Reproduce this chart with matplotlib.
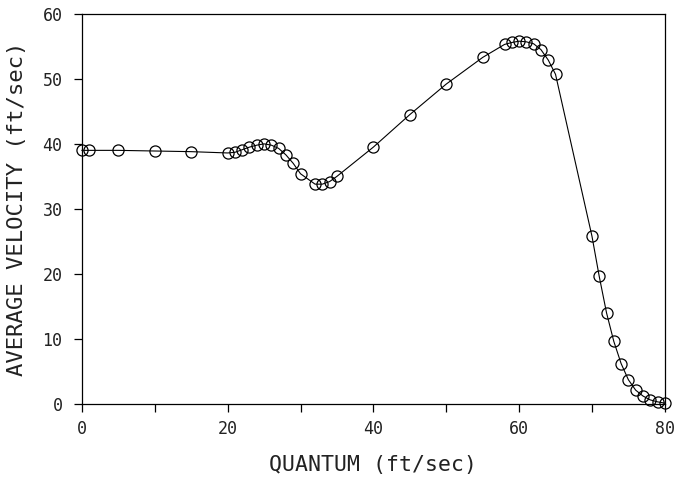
import matplotlib
matplotlib.use("Agg")
import matplotlib.pyplot as plt

quantum = [0, 1, 5, 10, 15, 20, 21, 22, 23, 24, 25, 26, 27, 28, 29, 30,
           32, 33, 34, 35, 40, 45, 50, 55, 58, 59, 60, 61, 62, 63, 64, 65,
           70, 71, 72, 73, 74, 75, 76, 77, 78, 79, 80]
avg_velocity = [39.0, 39.0, 39.0, 38.9, 38.8, 38.6, 38.7, 39.1, 39.5, 39.8, 40.0,
                39.8, 39.3, 38.3, 37.0, 35.4, 33.8, 33.8, 34.2, 35.0, 39.5, 44.5,
                49.2, 53.3, 55.3, 55.6, 55.8, 55.7, 55.4, 54.5, 52.9, 50.7,
                25.8, 19.6, 14.0, 9.6, 6.2, 3.7, 2.1, 1.2, 0.6, 0.3, 0.1]
x_ticks = [0, 20, 40, 60, 80]
x_minor = [10, 30, 50, 70]
y_ticks = [0, 10, 20, 30, 40, 50, 60]

plt.rcParams['font.family'] = ['DejaVu Sans Mono']

fig = plt.figure(figsize=(6.77, 4.79), dpi=100)
ax = fig.add_axes([0.121, 0.157, 0.861, 0.814])

ax.plot(quantum, avg_velocity, color='black', linewidth=0.8,
        marker='o', markersize=8, markerfacecolor='none',
        markeredgecolor='black', markeredgewidth=0.9, clip_on=False)

ax.set_xlim(0, 80)
ax.set_ylim(0, 60)
ax.set_xticks(x_ticks)
ax.set_xticks(x_minor, minor=True)
ax.set_yticks(y_ticks)
ax.set_xticklabels([str(t) for t in x_ticks], fontsize=12, color='#222222')
ax.set_yticklabels([str(t) for t in y_ticks], fontsize=12, color='#222222')
ax.tick_params(axis='both', which='both', direction='out', length=6, width=0.9,
               top=False, right=False, color='black')
ax.tick_params(axis='x', which='major', pad=6)
ax.tick_params(axis='y', which='major', pad=8)

for s in ax.spines.values():
    s.set_linewidth(0.9)
    s.set_color('black')

ax.set_xlabel('QUANTUM (ft/sec)', fontsize=15.5, labelpad=12, color='#222222')
ax.set_ylabel('AVERAGE VELOCITY (ft/sec)', fontsize=16, labelpad=11, color='#222222')

fig.savefig('out.png', dpi=100)
